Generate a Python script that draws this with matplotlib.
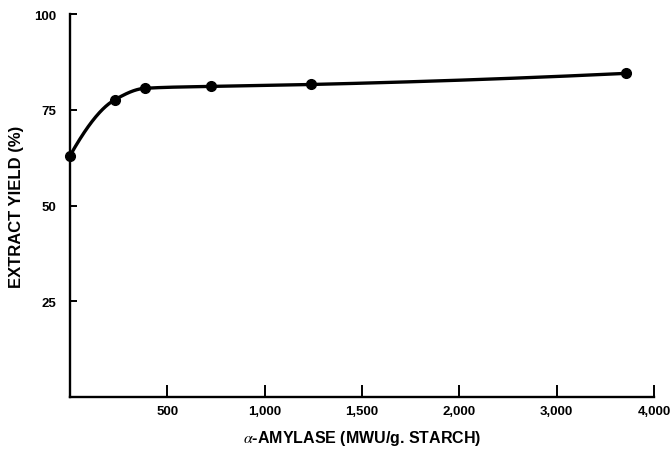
import numpy as np
import matplotlib
matplotlib.use('Agg')
import matplotlib.pyplot as plt

# ---- data ----
amylase = [0, 230, 385, 725, 1240, 3710]          # MWU/g starch
extract_yield = [63.0, 77.6, 80.6, 81.1, 81.6, 84.5]  # %
xtick_values = [500, 1000, 1500, 2000, 3000, 4000]
xtick_labels = ['500', '1,000', '1,500', '2,000', '3,000', '4,000']
ytick_values = [25, 50, 75, 100]
ytick_labels = ['25', '50', '75', '100']

plt.rcParams['font.family'] = ['Liberation Sans', 'DejaVu Sans']
plt.rcParams['mathtext.fontset'] = 'stix'


# piecewise axis: 0-2000 linear, 2000-4000 compressed by half
def fwd(x):
    x = np.asarray(x, dtype=float)
    return np.where(x <= 2000, x, 2000 + (x - 2000) / 2.0)


def inv(u):
    u = np.asarray(u, dtype=float)
    return np.where(u <= 2000, u, 2000 + (u - 2000) * 2.0)


def monotone_curve(xs, ys, n=60):
    """Monotone cubic Hermite through the points (for drawing the smooth line)."""
    xs = np.asarray(xs, float)
    ys = np.asarray(ys, float)
    h = np.diff(xs)
    d = np.diff(ys) / h
    m = np.zeros_like(ys)

    def end_slope(h0, h1, d0, d1):
        s = ((2 * h0 + h1) * d0 - h0 * d1) / (h0 + h1)
        if np.sign(s) != np.sign(d0):
            s = 0.0
        elif np.sign(d0) != np.sign(d1) and abs(s) > abs(3 * d0):
            s = 3 * d0
        return s

    m[0] = end_slope(h[0], h[1], d[0], d[1])
    m[-1] = end_slope(h[-1], h[-2], d[-1], d[-2])
    for i in range(1, len(xs) - 1):
        if d[i - 1] * d[i] <= 0:
            m[i] = 0
        else:
            w1 = 2 * h[i] + h[i - 1]
            w2 = h[i] + 2 * h[i - 1]
            m[i] = (w1 + w2) / (w1 / d[i - 1] + w2 / d[i])
    px, py = [], []
    for i in range(len(xs) - 1):
        t = np.linspace(0, 1, n)
        h00 = 2 * t**3 - 3 * t**2 + 1
        h10 = t**3 - 2 * t**2 + t
        h01 = -2 * t**3 + 3 * t**2
        h11 = t**3 - t**2
        seg = h00 * ys[i] + h10 * h[i] * m[i] + h01 * ys[i + 1] + h11 * h[i] * m[i + 1]
        px.append(xs[i] + t * h[i])
        py.append(seg)
    return np.concatenate(px), np.concatenate(py)


fig = plt.figure(figsize=(6.71, 4.52), dpi=100)
ax = fig.add_axes([70 / 671, 54 / 452, 584 / 671, 383 / 452])
ax.set_xscale('function', functions=(fwd, inv))
ax.set_xlim(0, 4000)
ax.set_ylim(0, 100)

u = fwd(amylase)
cu, cy = monotone_curve(u, extract_yield)
ax.plot(inv(cu), cy, color='black', lw=2.4, solid_capstyle='round', zorder=3)
ax.plot(amylase, extract_yield, 'o', color='black', ms=7, zorder=4, clip_on=False)

ax.spines['top'].set_visible(False)
ax.spines['right'].set_visible(False)
ax.spines['left'].set_linewidth(1.7)
ax.spines['bottom'].set_linewidth(1.7)

ax.set_xticks(xtick_values)
ax.set_xticklabels(xtick_labels)
ax.set_yticks(ytick_values)
ax.set_yticklabels(ytick_labels)
ax.xaxis.set_minor_locator(matplotlib.ticker.NullLocator())
ax.tick_params(axis='x', direction='in', length=9, width=1.4, pad=6,
               labelsize=9.5)
ax.tick_params(axis='y', direction='in', length=5, width=1.4, pad=10,
               labelsize=9.5)
for lab in ax.get_xticklabels() + ax.get_yticklabels():
    lab.set_fontweight('bold')

ax.set_xlabel(r'$\alpha$-AMYLASE (MWU/g. STARCH)', fontsize=11.5, fontweight='bold',
              labelpad=8)
ax.set_ylabel('EXTRACT YIELD (%)', fontsize=12, fontweight='bold', labelpad=7)

fig.savefig('out.png', dpi=100)
